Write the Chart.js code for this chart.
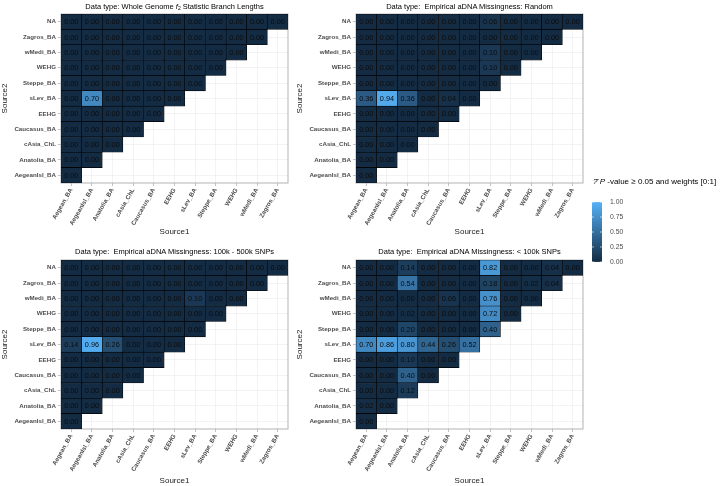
<!DOCTYPE html>
<html lang="en">
<head>
<meta charset="UTF-8">
<title>Source weights heatmaps</title>
<script src="https://cdn.jsdelivr.net/npm/chart.js"></script>
<style>
  body { margin: 0; background: #fff; width: 720px; height: 486px; position: relative; overflow: hidden;
         font-family: "Liberation Sans", Arial, sans-serif; }
  canvas { position: absolute; }
  .ttl { position: absolute; width: 227px; text-align: center; font-size: 7.5px; color: #000; white-space: pre; line-height: 9px; }
  .ttl sub { font-size: 5px; vertical-align: -1px; line-height: 0; }
  .xt { position: absolute; width: 227px; text-align: center; font-size: 8px; color: #1a1a1a; line-height: 10px; }
  .lgt { position: absolute; left: 593px; top: 177px; font-size: 8px; color: #000; white-space: pre; }
</style>
</head>
<body>
<canvas id="p1" width="300" height="240" style="left:0;top:0;width:300px;height:240px"></canvas>
<canvas id="p2" width="300" height="240" style="left:295px;top:0;width:300px;height:240px"></canvas>
<canvas id="p3" width="300" height="240" style="left:0;top:246px;width:300px;height:240px"></canvas>
<canvas id="p4" width="300" height="240" style="left:295px;top:246px;width:300px;height:240px"></canvas>
<canvas id="lg" width="64" height="84" style="left:585px;top:190px;width:64px;height:84px"></canvas>

<div class="ttl" style="left:61px;top:2px">Data type: Whole Genome <i>f</i><sub>2</sub> Statistic Branch Lengths</div>
<div class="ttl" style="left:356px;top:2px">Data type:  Empirical aDNA Missingness: Random</div>
<div class="ttl" style="left:61px;top:247px">Data type:  Empirical aDNA Missingness: 100k - 500k SNPs</div>
<div class="ttl" style="left:356px;top:247px">Data type:  Empirical aDNA Missingness: &lt; 100k SNPs</div>
<div class="xt" style="left:61px;top:227px">Source1</div>
<div class="xt" style="left:356px;top:227px">Source1</div>
<div class="xt" style="left:61px;top:476px">Source1</div>
<div class="xt" style="left:356px;top:476px">Source1</div>
<div class="lgt"><i>?&#770;</i> <i>P</i> -value ≥ 0.05 and weights [0:1]</div>

<script>
// columns (x) and rows (y, listed bottom to top)
var source1 = ['Aegean_BA', 'AegeanIsl_BA', 'Anatolia_BA', 'cAsia_ChL', 'Caucasus_BA', 'EEHG',
               'sLev_BA', 'Steppe_BA', 'WEHG', 'wMedi_BA', 'Zagros_BA'];
var source2 = ['AegeanIsl_BA', 'Anatolia_BA', 'cAsia_ChL', 'Caucasus_BA', 'EEHG', 'sLev_BA',
               'Steppe_BA', 'WEHG', 'wMedi_BA', 'Zagros_BA', 'NA'];

// weights, one row per source2 entry (bottom to top), row r has r+1 cells
var wholeGenome = [
    [0],
    [0, 0],
    [0, 0, 0],
    [0, 0, 0, 0],
    [0, 0, 0, 0, 0],
    [0, 0.70, 0, 0, 0, 0],
    [0, 0, 0, 0, 0, 0, 0],
    [0, 0, 0, 0, 0, 0, 0, 0],
    [0, 0, 0, 0, 0, 0, 0, 0, 0],
    [0, 0, 0, 0, 0, 0, 0, 0, 0, 0],
    [0, 0, 0, 0, 0, 0, 0, 0, 0, 0, 0]
];
var missRandom = [
    [0],
    [0, 0],
    [0, 0, 0],
    [0, 0, 0, 0],
    [0, 0, 0, 0, 0],
    [0.36, 0.94, 0.36, 0, 0.04, 0],
    [0, 0, 0, 0, 0, 0, 0],
    [0, 0, 0, 0, 0, 0, 0.10, 0],
    [0, 0, 0, 0, 0, 0, 0.10, 0, 0],
    [0, 0, 0, 0, 0, 0, 0, 0, 0, 0],
    [0, 0, 0, 0, 0, 0, 0.06, 0, 0, 0, 0]
];
var miss100kTo500k = [
    [0],
    [0, 0],
    [0, 0, 0],
    [0, 0, 0, 0],
    [0, 0, 0, 0, 0],
    [0.14, 0.96, 0.26, 0, 0, 0],
    [0, 0, 0, 0, 0, 0, 0],
    [0, 0, 0, 0, 0, 0, 0, 0],
    [0, 0, 0, 0, 0, 0, 0.10, 0, 0],
    [0, 0, 0, 0, 0, 0, 0, 0, 0, 0],
    [0, 0, 0, 0, 0, 0, 0, 0, 0, 0, 0]
];
var missUnder100k = [
    [0],
    [0.02, 0],
    [0, 0, 0.12],
    [0, 0, 0.40, 0],
    [0, 0, 0.10, 0, 0],
    [0.70, 0.86, 0.80, 0.44, 0.26, 0.52],
    [0, 0, 0.20, 0, 0, 0, 0.40],
    [0, 0, 0.02, 0, 0, 0, 0.72, 0],
    [0, 0, 0, 0, 0.06, 0, 0.76, 0, 0],
    [0, 0, 0.54, 0, 0, 0, 0.18, 0, 0.02, 0.04],
    [0, 0, 0.14, 0, 0, 0, 0.82, 0, 0, 0.04, 0]
];
// boxed cell: sLev_BA x AegeanIsl_BA
var highlightRow = 5, highlightCol = 1;
var legendTicks = [0, 0.25, 0.5, 0.75, 1];

var FONT = '"Liberation Sans", Arial, sans-serif';
Chart.defaults.font.family = FONT;

var lowCol = [19, 43, 67], highCol = [86, 177, 247];
function fillFor(w) {
    var c = lowCol.map(function (lo, k) { return Math.round(lo + (highCol[k] - lo) * w); });
    return 'rgb(' + c.join(',') + ')';
}

function makeDatasets(weights) {
    var sets = weights.map(function (row, r) {
        return {
            data: source1.map(function (_, c) { return c <= r ? [r - 0.5, r + 0.5] : null; }),
            weights: source1.map(function (_, c) { return c <= r ? row[c] : null; }),
            backgroundColor: source1.map(function (_, c) { return c <= r ? fillFor(row[c]) : 'rgba(0,0,0,0)'; }),
            borderColor: '#000',
            borderWidth: 0.6,
            borderSkipped: false,
            grouped: false,
            barPercentage: 1,
            categoryPercentage: 1
        };
    });
    sets.push({
        data: source1.map(function (_, c) { return c === highlightCol ? [highlightRow - 0.5, highlightRow + 0.5] : null; }),
        backgroundColor: 'rgba(0,0,0,0)',
        borderColor: '#ff0000',
        borderWidth: 2.5,
        borderSkipped: false,
        grouped: false,
        barPercentage: 1,
        categoryPercentage: 1
    });
    return sets;
}

var panelBorder = {
    id: 'panelBorder',
    beforeDatasetsDraw: function (chart) {
        var a = chart.chartArea, ctx = chart.ctx;
        ctx.save();
        ctx.strokeStyle = '#b3b3b3';
        ctx.lineWidth = 1;
        ctx.strokeRect(a.left, a.top, a.right - a.left, a.bottom - a.top);
        ctx.restore();
    }
};

var cellLabels = {
    id: 'cellLabels',
    afterDatasetsDraw: function (chart) {
        var ctx = chart.ctx;
        ctx.save();
        ctx.font = '7.3px ' + FONT;
        ctx.fillStyle = '#0d0d0d';
        ctx.textAlign = 'center';
        ctx.textBaseline = 'middle';
        chart.data.datasets.forEach(function (ds, i) {
            if (!ds.weights) return;
            chart.getDatasetMeta(i).data.forEach(function (el, c) {
                if (ds.weights[c] == null) return;
                var p = el.getCenterPoint();
                ctx.fillText(ds.weights[c].toFixed(2), p.x, p.y + 0.5);
            });
        });
        ctx.restore();
    }
};

function makePanel(id, weights) {
    new Chart(document.getElementById(id), {
        type: 'bar',
        data: { labels: source1, datasets: makeDatasets(weights) },
        options: {
            responsive: false,
            animation: false,
            layout: { padding: { top: 14, right: 12, left: 0, bottom: 0 } },
            plugins: { legend: { display: false }, tooltip: { enabled: false } },
            scales: {
                x: {
                    type: 'category',
                    offset: true,
                    grid: { offset: false, color: '#ebebeb', lineWidth: 0.6, tickColor: '#999', tickLength: 3 },
                    border: { display: false },
                    ticks: { autoSkip: false, minRotation: 60, maxRotation: 60, padding: 1,
                             color: '#4d4d4d', font: { size: 6.2, weight: 'bold' } },
                    afterFit: function (s) { s.height = 57; }
                },
                y: {
                    type: 'linear',
                    min: -0.5,
                    max: 10.5,
                    afterBuildTicks: function (s) {
                        s.ticks = source2.map(function (_, i) { return { value: i }; });
                    },
                    grid: { color: '#ebebeb', lineWidth: 0.6, tickColor: '#999', tickLength: 3 },
                    border: { display: false },
                    ticks: { callback: function (v) { return source2[v]; }, padding: 2,
                             color: '#4d4d4d', font: { size: 6.2, weight: 'bold' } },
                    title: { display: true, text: 'Source2', color: '#1a1a1a', font: { size: 8 },
                             padding: { top: 0, bottom: 0 } },
                    afterFit: function (s) { s.width = 61; }
                }
            }
        },
        plugins: [panelBorder, cellLabels]
    });
}

makePanel('p1', wholeGenome);
makePanel('p2', missRandom);
makePanel('p3', miss100kTo500k);
makePanel('p4', missUnder100k);

// colour bar legend
var colourBar = {
    id: 'colourBar',
    beforeDatasetsDraw: function (chart) {
        var a = chart.chartArea, ctx = chart.ctx, y = chart.scales.y;
        var g = ctx.createLinearGradient(0, a.bottom, 0, a.top);
        g.addColorStop(0, fillFor(0));
        g.addColorStop(1, fillFor(1));
        ctx.save();
        ctx.fillStyle = g;
        ctx.fillRect(a.left, a.top, a.right - a.left, a.bottom - a.top);
        ctx.strokeStyle = '#fff';
        ctx.lineWidth = 0.6;
        legendTicks.forEach(function (t) {
            var py = y.getPixelForValue(t);
            ctx.beginPath();
            ctx.moveTo(a.left, py); ctx.lineTo(a.left + 2, py);
            ctx.moveTo(a.right - 2, py); ctx.lineTo(a.right, py);
            ctx.stroke();
        });
        ctx.restore();
    }
};

new Chart(document.getElementById('lg'), {
    type: 'scatter',
    data: { datasets: [{ data: [] }] },
    options: {
        responsive: false,
        animation: false,
        layout: { padding: { top: 8, bottom: 10, left: 7, right: 0 } },
        plugins: { legend: { display: false }, tooltip: { enabled: false } },
        scales: {
            x: { display: false },
            y: {
                position: 'right',
                min: 0,
                max: 1,
                afterBuildTicks: function (s) {
                    s.ticks = legendTicks.map(function (t) { return { value: t }; });
                },
                grid: { display: false, drawTicks: false },
                border: { display: false },
                ticks: { callback: function (v) { return v.toFixed(2); }, padding: 8,
                         color: '#4d4d4d', font: { size: 6.8 } },
                afterFit: function (s) { s.width = 47; }
            }
        }
    },
    plugins: [colourBar]
});
</script>
</body>
</html>
